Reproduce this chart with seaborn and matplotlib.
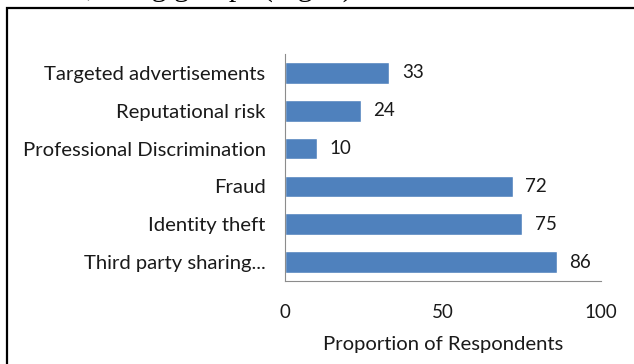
import matplotlib
matplotlib.use("Agg")
import matplotlib.pyplot as plt
import seaborn as sns
import pandas as pd
from matplotlib.patches import Rectangle

# Perceived risks of data sharing
categories = [
    "Targeted advertisements",
    "Reputational risk",
    "Professional Discrimination",
    "Fraud",
    "Identity theft",
    "Third party sharing...",
]
values = [33, 24, 10, 72, 75, 86]
x_ticks = [0, 50, 100]
x_label = "Proportion of Respondents"
caption_tail = "r, using groups (Fig. 1)"

W, H = 634, 364
sns.set_theme(style="white")
plt.rcParams["font.family"] = ["Lato", "DejaVu Sans"]

fig = plt.figure(figsize=(W / 100, H / 100), dpi=100)
fig.patch.set_facecolor("white")

# axes placed in pixel terms
left, right, top, bottom = 285, 601, 54, 281
ax = fig.add_axes([left / W, 1 - bottom / H, (right - left) / W, (bottom - top) / H])

df = pd.DataFrame({"category": categories, "value": values})
sns.barplot(data=df, x="value", y="category", order=categories,
            color="#4F81BD", saturation=1, width=0.57, ax=ax)

text_color = "#1a1a1a"
axis_color = "#8c8c8c"
fs_text = 14.6
fs_num = 13.5

ax.set_xlim(0, 100)
ax.set_xticks(x_ticks)
ax.set_xticklabels([str(t) for t in x_ticks], fontsize=fs_num, color=text_color)
ax.tick_params(axis="x", direction="out", length=4.5, width=0.8, color=axis_color, pad=12)
ax.tick_params(axis="y", length=0, pad=14, labelsize=fs_text, labelcolor=text_color)
ax.set_xlabel(x_label, fontsize=fs_text, color=text_color, labelpad=11)
ax.set_ylabel("")

for side in ["top", "right"]:
    ax.spines[side].set_visible(False)
for side in ["left", "bottom"]:
    ax.spines[side].set_color(axis_color)
    ax.spines[side].set_linewidth(0.8)

ax.bar_label(ax.containers[0], labels=[str(v) for v in values], padding=9,
             fontsize=fs_num, color=text_color)

# outer frame, running past the right and bottom edges
fig.patches.append(Rectangle((7 / W, -0.2), 1.2, 1.2 - 8 / H, fill=False,
                             edgecolor="black", linewidth=1.6,
                             transform=fig.transFigure, figure=fig))

# running text from the page above, mostly cut off
fig.text(78 / W, 1 + 4 / H, caption_tail, fontsize=21.5, va="baseline",
         ha="left", family="Liberation Serif", color="black")

fig.savefig("out.png", dpi=100)
